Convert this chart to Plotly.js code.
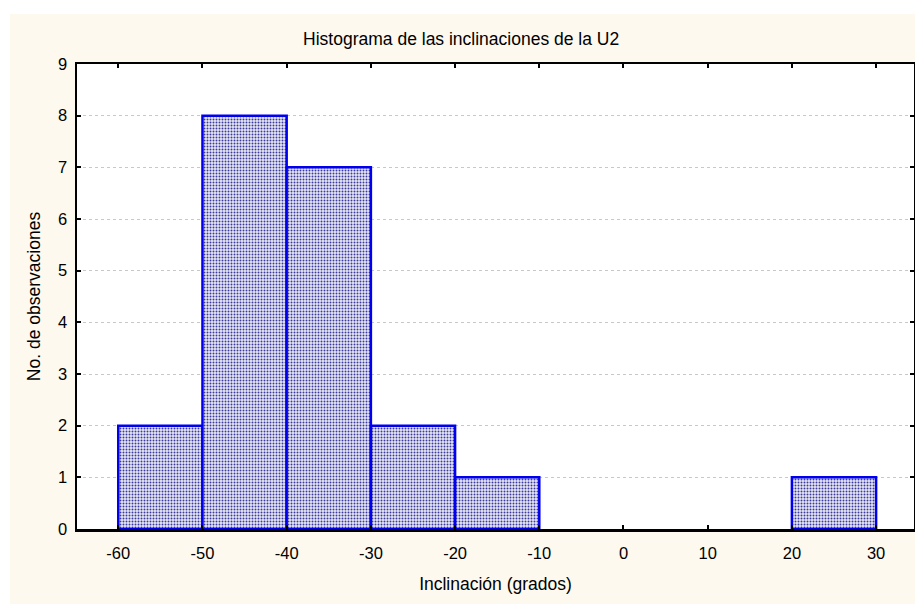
<!DOCTYPE html>
<html>
<head>
<meta charset="utf-8">
<script src="https://cdn.plot.ly/plotly-3.0.1.min.js"></script>
<style>html,body{margin:0;padding:0;background:#fff;}#chart{width:915px;height:604px;}</style>
</head>
<body>
<div id="chart"></div>
<script>
const binCenters = [-55, -45, -35, -25, -15, -5, 5, 15, 25];
const counts = [2, 8, 7, 2, 1, 0, 0, 0, 1];
const xTicks = [-60, -50, -40, -30, -20, -10, 0, 10, 20, 30];
const yTicks = [0, 1, 2, 3, 4, 5, 6, 7, 8, 9];
const chartTitle = "Histograma de las inclinaciones de la U2";
const xTitle = "Inclinación (grados)";
const yTitle = "No. de observaciones";

const fam = "Liberation Sans, Arial, sans-serif";
const tickFont = {family: fam, size: 16.5, color: "#000"};
const titleFont = {family: fam, size: 17.5, color: "#000"};

Plotly.newPlot("chart", [{
  type: "bar",
  x: binCenters,
  y: counts.map(v => v === 0 ? null : v),
  width: 10,
  marker: {
    color: "#d8d8ee",
    line: {color: "#0000ee", width: 2.5},
    pattern: {shape: ".", fgcolor: "#3a3aa0", bgcolor: "#e8e8f5", size: 3, solidity: 0.33}
  },
  hoverinfo: "skip"
}], {
  width: 915, height: 604,
  paper_bgcolor: "#fdf9ef",
  plot_bgcolor: "#ffffff",
  margin: {l: 77, r: 1, t: 64, b: 75},
  font: tickFont,
  showlegend: false,
  bargap: 0,
  title: {text: chartTitle, x: 0.504, xanchor: "center", y: 0.935, yanchor: "middle", font: titleFont},
  xaxis: {
    range: [-64.9, 34.5],
    tickvals: xTicks,
    ticktext: xTicks.map(String),
    ticks: "inside", ticklen: 4, tickwidth: 2, tickcolor: "#000",
    showline: true, linecolor: "#000", linewidth: 2.5, mirror: "ticks",
    showgrid: false, zeroline: false,
    ticklabelstandoff: 8,
    tickfont: tickFont,
    title: {text: xTitle, font: titleFont, standoff: 17}
  },
  yaxis: {
    range: [0, 9],
    tickvals: yTicks,
    ticks: "inside", ticklen: 4, tickwidth: 2, tickcolor: "#000",
    showline: true, linecolor: "#000", linewidth: 2.5, mirror: "ticks",
    showgrid: true, gridcolor: "#c8c8c8", griddash: "dot", gridwidth: 1,
    zeroline: false,
    ticklabelstandoff: 4,
    tickfont: tickFont,
    title: {text: yTitle, font: titleFont, standoff: 13}
  },
  shapes: [
    {type: "rect", xref: "paper", yref: "paper", x0: -0.2, x1: (10-77)/837, y0: -0.3, y1: 1.3, fillcolor: "#ffffff", line: {width: 0}, layer: "below"},
    {type: "rect", xref: "paper", yref: "paper", x0: -0.2, x1: 1.2, y0: (529-14)/465, y1: 1.3, fillcolor: "#ffffff", line: {width: 0}, layer: "below"}
  ]
}, {staticPlot: true});
</script>
</body>
</html>
